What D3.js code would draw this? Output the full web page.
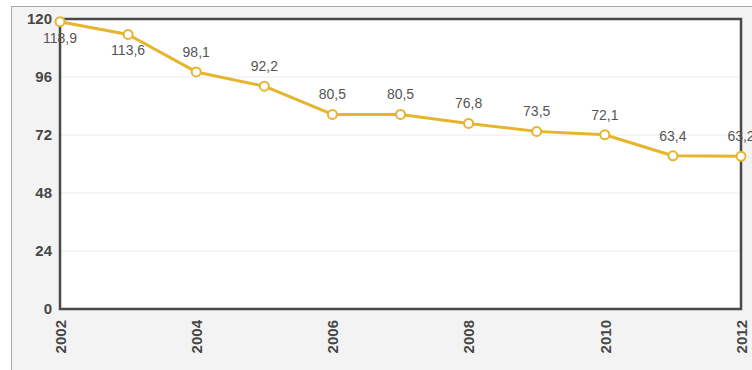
<!DOCTYPE html>
<html>
<head>
<meta charset="utf-8">
<script src="https://cdn.jsdelivr.net/npm/d3@7"></script>
<style>
  body { margin: 0; background: #fff; }
  svg { display: block; font-family: Arial, "Liberation Sans", sans-serif; }
</style>
</head>
<body>
<div id="chart"></div>
<script>
// values
var years = [2002, 2003, 2004, 2005, 2006, 2007, 2008, 2009, 2010, 2011, 2012];
var values = [118.9, 113.6, 98.1, 92.2, 80.5, 80.5, 76.8, 73.5, 72.1, 63.4, 63.2];
// labels that sit under their point instead of above it
var labelBelow = [true, true, false, false, false, false, false, false, false, false, false];
var yTicks = [0, 24, 48, 72, 96, 120];
var xTicks = [2002, 2004, 2006, 2008, 2010, 2012];

var width = 752, height = 370;
var margin = {top: 19, right: 11, bottom: 61, left: 60};
var innerW = width - margin.left - margin.right,
    innerH = height - margin.top - margin.bottom;

var svg = d3.select("#chart").append("svg")
    .attr("width", width).attr("height", height);

// outer panel
svg.append("rect")
    .attr("x", 11.5).attr("y", 6.5)
    .attr("width", width).attr("height", height)
    .attr("fill", "#f3f3f3").attr("stroke", "#a8a8a8").attr("stroke-width", 1);

var g = svg.append("g").attr("transform", "translate(" + margin.left + "," + margin.top + ")");

var x = d3.scaleLinear().domain([2002, 2012]).range([0, innerW]);
var y = d3.scaleLinear().domain([0, 120]).range([innerH, 0]);

g.append("rect").attr("width", innerW).attr("height", innerH).attr("fill", "#fff");

// grid
g.selectAll(".grid").data(yTicks.slice(1, -1)).enter().append("line")
    .attr("class", "grid")
    .attr("x1", 0).attr("x2", innerW)
    .attr("y1", function (d) { return y(d); })
    .attr("y2", function (d) { return y(d); })
    .attr("stroke", "#ececec").attr("stroke-width", 1);

// frame
g.append("rect").attr("width", innerW).attr("height", innerH)
    .attr("fill", "none").attr("stroke", "#4a4a4a").attr("stroke-width", 2.5);

// y axis labels
var yAxis = g.append("g").call(d3.axisLeft(y).tickValues(yTicks).tickSize(0).tickPadding(8));
yAxis.select(".domain").remove();
yAxis.selectAll("text")
    .attr("font-size", 15).attr("font-weight", "bold").attr("fill", "#474747")
    .attr("font-family", "Arial, 'Liberation Sans', sans-serif");

// x axis labels, rotated
var xAxis = g.append("g").attr("transform", "translate(0," + innerH + ")")
    .call(d3.axisBottom(x).tickValues(xTicks).tickFormat(d3.format("d")).tickSize(0));
xAxis.select(".domain").remove();
xAxis.selectAll("text")
    .attr("transform", "rotate(-90)")
    .attr("x", -11).attr("y", 0).attr("dy", "0.35em")
    .style("text-anchor", "end")
    .attr("font-size", 15).attr("font-weight", "bold").attr("fill", "#474747")
    .attr("font-family", "Arial, 'Liberation Sans', sans-serif");

var data = years.map(function (d, i) { return {year: d, value: values[i], below: labelBelow[i]}; });

var line = d3.line()
    .x(function (d) { return x(d.year); })
    .y(function (d) { return y(d.value); });

g.append("path").datum(data)
    .attr("d", line)
    .attr("fill", "none").attr("stroke", "#e6b52c").attr("stroke-width", 3)
    .attr("stroke-linejoin", "round");

g.selectAll(".pt").data(data).enter().append("circle")
    .attr("class", "pt")
    .attr("cx", function (d) { return x(d.year); })
    .attr("cy", function (d) { return y(d.value); })
    .attr("r", 4.5)
    .attr("fill", "#fff").attr("stroke", "#e6b52c").attr("stroke-width", 2);

var fmt = function (v) { return d3.format(".1f")(v).replace(".", ","); };

g.selectAll(".lbl").data(data).enter().append("text")
    .attr("class", "lbl")
    .attr("x", function (d) { return x(d.year); })
    .attr("y", function (d) { return y(d.value) + (d.below ? 21 : -15); })
    .attr("text-anchor", "middle")
    .attr("font-size", 14).attr("fill", "#555")
    .text(function (d) { return fmt(d.value); });
</script>
</body>
</html>
